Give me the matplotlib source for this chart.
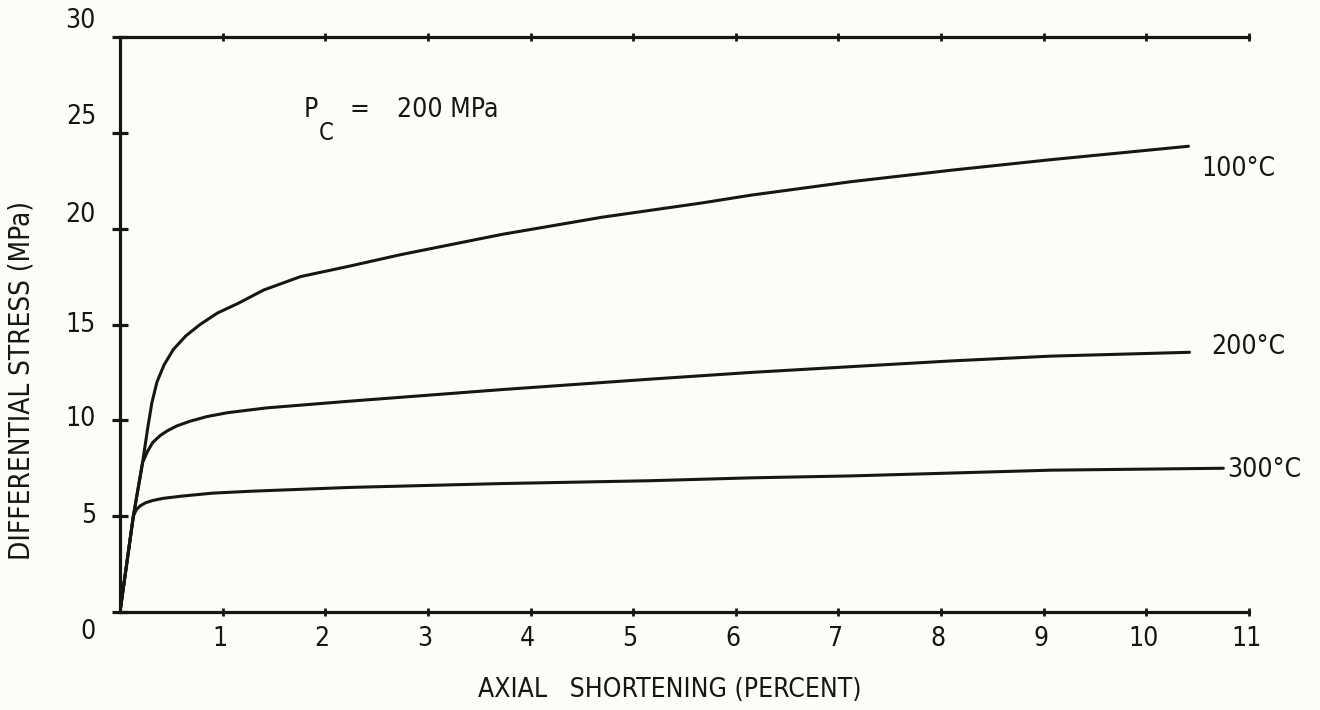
import matplotlib
matplotlib.use("Agg")
import matplotlib.pyplot as plt
from matplotlib import font_manager

# curves (axial shortening %, differential stress MPa)
strain_100 = [0, 0.13, 0.22, 0.27, 0.31, 0.36, 0.43, 0.52, 0.64, 0.78, 0.95,
              1.15, 1.40, 1.76, 2.24, 2.74, 3.72, 4.70, 5.68, 6.15, 7.12,
              8.10, 9.07, 10.41]
stress_100 = [0, 5.0, 7.8, 9.6, 10.9, 12.0, 12.9, 13.7, 14.4, 15.0, 15.6,
              16.1, 16.8, 17.5, 18.05, 18.65, 19.7, 20.6, 21.35, 21.75, 22.45,
              23.05, 23.6, 24.3]

strain_200 = [0, 0.13, 0.22, 0.27, 0.32, 0.39, 0.46, 0.55, 0.68, 0.85, 1.05,
              1.43, 2.24, 3.71, 5.17, 6.15, 7.12, 8.10, 9.07, 10.42]
stress_200 = [0, 5.0, 7.8, 8.4, 8.85, 9.2, 9.45, 9.7, 9.95, 10.2, 10.4,
              10.65, 11.0, 11.6, 12.15, 12.5, 12.8, 13.1, 13.35, 13.55]

strain_300 = [0, 0.13, 0.16, 0.20, 0.25, 0.32, 0.42, 0.61, 0.90, 1.27, 2.24,
              3.71, 5.17, 6.15, 7.12, 8.10, 9.07, 10.75]
stress_300 = [0, 5.0, 5.35, 5.55, 5.7, 5.82, 5.93, 6.05, 6.2, 6.3, 6.5,
              6.7, 6.85, 7.0, 7.1, 7.25, 7.4, 7.5]

curve_labels = ["100°C", "200°C", "300°C"]
label_pos = [(10.54, 23.1), (10.63, 13.8), (10.79, 7.4)]

x_ticks = list(range(1, 12))
y_ticks = [0, 5, 10, 15, 20, 25, 30]
# hand lettered labels sit off their ticks in the original
y_label_dy = [-20, 0, 1, 0, 14, 16, 16]

# the lettering is tall and narrow; use a condensed face if one is installed
narrow = [f for f in font_manager.fontManager.ttflist
          if ("Narrow" in f.name or "Condensed" in f.name
              or f.stretch in ("condensed", "semi-condensed", 63, 75, 87))
          and "Mono" not in f.name and "Serif" not in f.name
          and f.style == "normal" and f.weight in (400, "normal", "regular", "book")]
if narrow:
    fp = font_manager.FontProperties(fname=narrow[0].fname)
    fs = 19
else:
    fp = font_manager.FontProperties(family="DejaVu Sans")
    fs = 16

ink = "#161616"
bg = "#fdfdf8"

fig = plt.figure(figsize=(13.2, 7.1), dpi=100, facecolor=bg)
ax = fig.add_axes([120 / 1320, 98 / 710, 1129 / 1320, 575 / 710], facecolor=bg)
ax.set_xlim(0, 11)
ax.set_ylim(0, 30)

for xs, ys in [(strain_100, stress_100), (strain_200, stress_200), (strain_300, stress_300)]:
    ax.plot(xs, ys, color=ink, lw=2.2, solid_joinstyle="round", solid_capstyle="round")

for txt, (x, y) in zip(curve_labels, label_pos):
    ax.text(x, y, txt, fontproperties=fp, fontsize=fs, color=ink,
            ha="left", va="center", clip_on=False)

ax.spines["right"].set_visible(False)
for s in ["left", "bottom", "top"]:
    ax.spines[s].set_linewidth(2.3)
    ax.spines[s].set_color(ink)

ax.set_xticks(x_ticks)
ax.set_yticks(y_ticks)
ax.tick_params(axis="y", direction="inout", length=11, width=2.3, color=ink,
               labelleft=False)
ax.tick_params(axis="x", direction="inout", length=6, width=2.0, color=ink,
               labelbottom=False, top=True)

for v, dy in zip(y_ticks, y_label_dy):
    ax.annotate(str(v), xy=(0, v), xytext=(-24, dy), textcoords="offset pixels",
                ha="right", va="center", fontproperties=fp, fontsize=fs, color=ink,
                annotation_clip=False)
for v in x_ticks:
    ax.annotate(str(v), xy=(v, 0), xytext=(-3, -27), textcoords="offset pixels",
                ha="center", va="center", fontproperties=fp, fontsize=fs, color=ink,
                annotation_clip=False)

ax.text(1.79, 26.2, "P", fontproperties=fp, fontsize=fs, color=ink, ha="left", va="center")
ax.text(1.94, 25.0, "C", fontproperties=fp, fontsize=fs - 2, color=ink, ha="left", va="center")
ax.text(2.24, 26.2, "=", fontproperties=fp, fontsize=fs, color=ink, ha="left", va="center")
ax.text(2.70, 26.2, "200 MPa", fontproperties=fp, fontsize=fs, color=ink, ha="left", va="center")

fig.text(22 / 1320, 1 - 380 / 710, "DIFFERENTIAL STRESS (MPa)", rotation=90,
         ha="center", va="center", fontproperties=fp, fontsize=fs + 1, color=ink)
fig.text(670 / 1320, 1 - 690 / 710, "AXIAL   SHORTENING (PERCENT)",
         ha="center", va="center", fontproperties=fp, fontsize=fs, color=ink)

fig.savefig("out.png", dpi=100, facecolor=bg)
